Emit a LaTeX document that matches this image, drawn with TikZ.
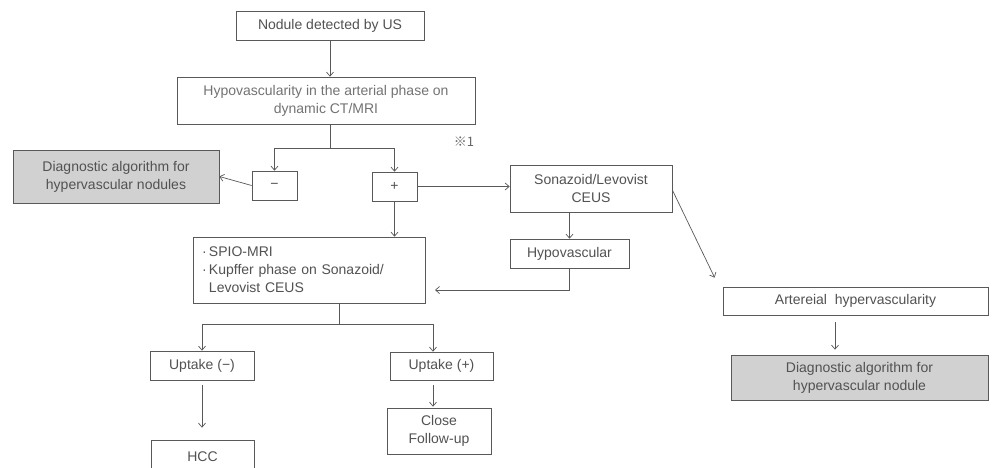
\documentclass[tikz,border=0pt]{standalone}
\usepackage{fontspec}
\setmainfont{Liberation Sans}
\newfontfamily\cjk{Noto Sans CJK JP}
\usetikzlibrary{arrows.meta,calc}
\begin{document}
\begin{tikzpicture}[x=1pt,y=-1pt,
  box/.style={draw=black!65, line width=0.7pt, inner sep=0pt, align=center, text=black!68, font=\fontsize{14}{18}\selectfont},
  graybox/.style={box, fill=black!18},
  arr/.style={draw=black!65, line width=0.7pt, -{Straight Barb[length=4pt,width=7pt]}},
  ln/.style={draw=black!65, line width=0.7pt}]
\clip (0,0) rectangle (993,467);
\fill[white] (0,0) rectangle (993,467);
% nodes
\node[box, minimum width=188pt, minimum height=29pt] (nod) at (330,25.5) {Nodule detected by US};
\node[box, minimum width=298pt, minimum height=47pt, text=black!55] (hypo) at (326,100.5) {Hypovascularity in the arterial phase on\\dynamic CT/MRI};
\node[text=black!60, font=\cjk\fontsize{13}{15}\selectfont] (note) at (464,142) {※1};
\node[graybox, minimum width=206pt, minimum height=53pt] (dl) at (116,176.5) {Diagnostic algorithm for\\hypervascular nodules};
\node[box, minimum width=45pt, minimum height=29pt] (minus) at (274.5,185.5) {−};
\node[box, minimum width=45pt, minimum height=29pt] (plus) at (394.5,186.5) {+};
\node[box, minimum width=162pt, minimum height=47pt] (son) at (591,188.5) {Sonazoid/Levovist\\CEUS};
\node[box, minimum width=119pt, minimum height=29pt] (hv) at (569.5,253.5) {Hypovascular};
\node[box, minimum width=232pt, minimum height=66pt, align=left, text width=214pt, inner xsep=9pt] (spio) at (309,270) {·\,SPIO-MRI\\·\,Kupffer phase on Sonazoid/\\\phantom{·\,}Levovist CEUS};
\node[box, minimum width=265pt, minimum height=28pt] (art) at (855.5,301) {Artereial\ \ hypervascularity};
\node[graybox, minimum width=257pt, minimum height=45pt] (dr) at (859.5,377.5) {Diagnostic algorithm for\\hypervascular nodule};
\node[box, minimum width=104pt, minimum height=29pt] (um) at (202,365.5) {Uptake (−)};
\node[box, minimum width=103pt, minimum height=28pt] (up) at (441.5,366) {Uptake (+)};
\node[box, minimum width=103pt, minimum height=44pt, text depth=0pt] (hcc) at (202.5,462) {\raisebox{10pt}{HCC}};
\node[box, minimum width=104pt, minimum height=46pt] (close) at (439,431) {Close\\Follow-up};
% connectors
\draw[arr] (nod.south) -- (nod.south |- hypo.north);
\coordinate (j1) at (330,148);
\draw[ln] (hypo.south -| j1) -- (j1);
\draw[arr] (j1) -| (minus.north);
\draw[arr] (j1) -| (plus.north);
\draw[arr] (minus.west) -- (dl.east);
\draw[arr] (plus.east) -- (plus.east -| son.west);
\draw[arr] (hv.north |- son.south) -- (hv.north);
\draw[arr] (plus.south) -- (plus.south |- spio.north);
\coordinate (k) at (435,290);
\draw[arr] (hv.south) |- (k);
\coordinate (j2) at (339,324);
\draw[ln] (spio.south -| j2) -- (j2);
\draw[arr] (j2) -| (um.north);
\draw[arr] (j2) -| ($(up.north)+(-8.5,0)$);
\draw[arr] ($(um.south)+(0,5)$) -- ($(hcc.north)+(-0.5,-12)$);
\draw[arr] ($(up.south)+(-8.5,5)$) -- ($(close.north)+(-6,-1)$);
\draw[arr] ($(son.east)+(0,1.5)$) -- ($(art.north west)+(-8,-9)$);
\draw[arr] ($(art.south)+(-20.5,7)$) -- ($(dr.north)+(-24.5,-5)$);
\end{tikzpicture}
\end{document}
